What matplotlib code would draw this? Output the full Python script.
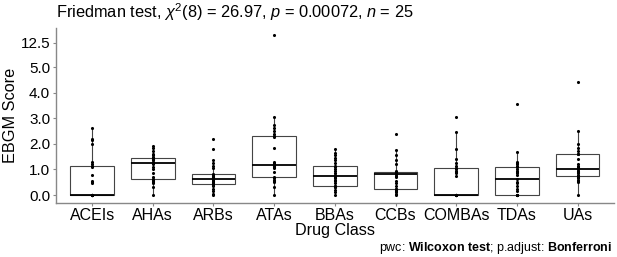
import numpy as np
import matplotlib
matplotlib.use("Agg")
import matplotlib.pyplot as plt

plt.rcParams['font.family'] = ['Liberation Sans', 'DejaVu Sans']
plt.rcParams['mathtext.fontset'] = 'custom'
plt.rcParams['mathtext.rm'] = 'Liberation Sans'
plt.rcParams['mathtext.it'] = 'Liberation Sans:italic'
plt.rcParams['mathtext.bf'] = 'Liberation Sans:bold'

# EBGM scores per drug class (n = 25 each)
classes = ["ACEIs", "AHAs", "ARBs", "ATAs", "BBAs", "CCBs", "COMBAs", "TDAs", "UAs"]

aceis = [0] * 13 + [0.45, 0.5, 0.55, 0.8, 1.1, 1.15, 1.2, 1.3, 2.0, 2.15, 2.2, 2.6]
ahas = [0, 0.3, 0.45, 0.5, 0.55, 0.6, 0.61, 0.7, 0.85, 1.0, 1.1, 1.2, 1.24,
        1.3, 1.35, 1.4, 1.42, 1.45, 1.46, 1.5, 1.55, 1.6, 1.7, 1.85, 1.9]
arbs = [0, 0.05, 0.15, 0.25, 0.35, 0.4, 0.42, 0.45, 0.5, 0.55, 0.6, 0.62, 0.63,
        0.65, 0.7, 0.72, 0.75, 0.8, 0.81, 1.05, 1.15, 1.25, 1.35, 1.78, 2.19]
atas = [0, 0.3, 0.5, 0.55, 0.6, 0.65, 0.71, 0.9, 1.05, 1.1, 1.12, 1.15, 1.16,
        1.2, 1.25, 1.3, 1.82, 2.28, 2.3, 2.4, 2.5, 2.6, 2.75, 3.06, 15.0]
bbas = [0, 0.1, 0.2, 0.3, 0.33, 0.35, 0.36, 0.45, 0.55, 0.6, 0.65, 0.7, 0.74,
        0.8, 0.85, 0.95, 1.0, 1.1, 1.15, 1.25, 1.35, 1.45, 1.55, 1.65, 1.8]
ccbs = [0, 0.05, 0.1, 0.15, 0.2, 0.22, 0.23, 0.35, 0.45, 0.55, 0.7, 0.75, 0.82,
        0.84, 0.86, 0.88, 0.9, 0.9, 0.91, 0.95, 1.2, 1.35, 1.55, 1.76, 2.39]
combas = [0] * 13 + [0.75, 0.85, 0.9, 0.95, 1.0, 1.07, 1.15, 1.25, 1.4, 1.8, 2.45, 3.06]
tdas = [0] * 7 + [0.15, 0.25, 0.35, 0.45, 0.5, 0.61, 0.8, 0.85, 0.9, 0.95, 1.0,
                  1.11, 1.15, 1.2, 1.25, 1.3, 1.69, 3.54]
uas = [0, 0.5, 0.55, 0.6, 0.65, 0.7, 0.74, 0.8, 0.85, 0.9, 0.95, 1.0, 1.02,
       1.05, 1.1, 1.15, 1.2, 1.4, 1.59, 1.6, 1.7, 1.85, 2.0, 2.51, 4.43]

groups = [aceis, ahas, arbs, atas, bbas, ccbs, combas, tdas, uas]
yticks = [0, 1, 2, 3, 4, 5, 12.5]
ytick_labels = ["0.0", "1.0", "2.0", "3.0", "4.0", "5.0", "12.5"]


# linear up to 5, squeezed above
def fwd(y):
    y = np.asarray(y, dtype=float)
    return np.where(y <= 5, y, 5 + (y - 5) * 0.125)


def inv(t):
    t = np.asarray(t, dtype=float)
    return np.where(t <= 5, t, 5 + (t - 5) / 0.125)


fig = plt.figure(figsize=(6.17, 2.57), dpi=100)
ax = fig.add_axes([55.7 / 617, 54.3 / 257, 558.3 / 617, 175.0 / 257])
ax.set_yscale('function', functions=(fwd, inv))

pos = np.arange(1, len(classes) + 1)
grey = '#444444'
ax.boxplot(groups, positions=pos, widths=0.72, showfliers=False, whis=1.5,
           patch_artist=True,
           boxprops=dict(facecolor='white', edgecolor=grey, linewidth=0.8),
           whiskerprops=dict(color=grey, linewidth=0.8),
           capprops=dict(linewidth=0),
           medianprops=dict(color='black', linewidth=1.3))

for x, g in zip(pos, groups):
    ax.scatter(np.full(len(g), x), g, s=5, color='black', zorder=3, linewidths=0)

ax.set_xlim(0.4, 9.6)
ax.set_ylim(inv(-0.30), inv(6.535))
ax.set_xticks(pos)
ax.set_xticklabels(classes, fontsize=11.5)
ax.set_yticks(yticks)
ax.set_yticklabels(ytick_labels, fontsize=11)
ax.yaxis.set_minor_locator(matplotlib.ticker.NullLocator())

for side in ['top', 'right']:
    ax.spines[side].set_visible(False)
for side in ['left', 'bottom']:
    ax.spines[side].set_color('#888888')
    ax.spines[side].set_linewidth(1.0)
ax.tick_params(axis='both', colors='#888888', labelcolor='black', length=2.5,
               width=0.8, pad=1.5)

ax.set_xlabel("Drug Class", fontsize=11.6, labelpad=0)
ax.set_ylabel("EBGM Score", fontsize=11.7, labelpad=2)

fig.text(55.7 / 617, 1 - 12 / 257,
         r"Friedman test, $\chi^2$(8) = 26.97, $p$ = 0.00072, $n$ = 25",
         fontsize=11.8, ha='left', va='center')
fig.text(612 / 617, 1 - 248 / 257,
         r"pwc: $\mathbf{Wilcoxon\ test}$; p.adjust: $\mathbf{Bonferroni}$",
         fontsize=9, ha='right', va='center')

fig.savefig("out.png", dpi=100)
